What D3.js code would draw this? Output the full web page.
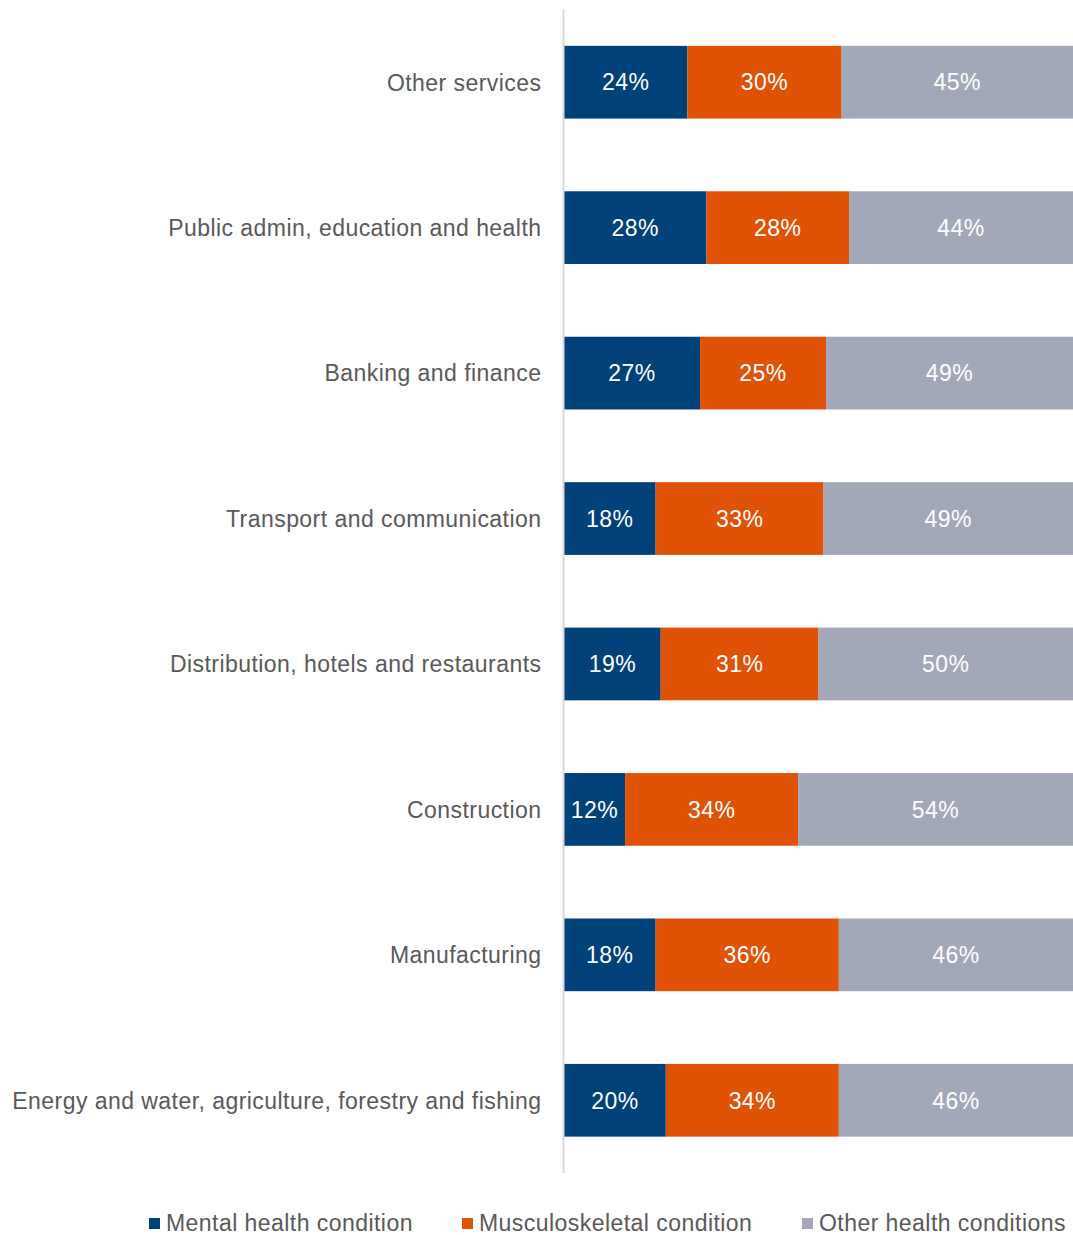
<!DOCTYPE html>
<html><head><meta charset="utf-8">
<script src="https://cdn.jsdelivr.net/npm/d3@7"></script>
<style>body{margin:0;background:#fff;}svg{display:block;font-family:"Liberation Sans",Arial,sans-serif;}</style>
</head><body>
<script>
const categories = ["Other services","Public admin, education and health","Banking and finance","Transport and communication","Distribution, hotels and restaurants","Construction","Manufacturing","Energy and water, agriculture, forestry and fishing"];
const seriesNames = ["Mental health condition","Musculoskeletal condition","Other health conditions"];
const mental = [24,28,27,18,19,12,18,20];
const musculo = [30,28,25,33,31,34,36,34];
const other = [45,44,49,49,50,54,46,46];
const colors = ["#00417a","#e05206","#a2a8b8"];

const W=1073,H=1235;
const FS=23, LS="0.45px";
const svg=d3.select("body").append("svg").attr("width",W).attr("height",H);
const keys=["m","k","o"];
const data=categories.map((c,i)=>({cat:c,m:mental[i],k:musculo[i],o:other[i]}));
const stacked=d3.stack().keys(keys).offset(d3.stackOffsetExpand)(data);
const x=d3.scaleLinear().domain([0,1]).range([564,1073]);
const y=d3.scaleBand().domain(categories).range([9.5,1173]).paddingInner(0.5).paddingOuter(0.25);

stacked.forEach((s,si)=>{
  const g=svg.append("g");
  g.selectAll("rect").data(s).join("rect")
    .attr("x",d=>x(d[0])).attr("width",d=>x(d[1])-x(d[0]))
    .attr("y",d=>y(d.data.cat)).attr("height",y.bandwidth())
    .attr("fill",colors[si]);
  g.selectAll("text").data(s).join("text")
    .attr("x",d=>(x(d[0])+x(d[1]))/2).attr("y",d=>y(d.data.cat)+y.bandwidth()/2)
    .attr("dy","0.36em").attr("text-anchor","middle").attr("fill","#fff")
    .attr("font-size",FS).attr("letter-spacing",LS)
    .text(d=>d.data[keys[si]]+"%");
});

// axis
const ax=svg.append("g").attr("transform","translate(563.5,0)").call(d3.axisLeft(y).tickSize(0).tickPadding(22));
ax.select(".domain").attr("stroke","#d9d9d9").attr("stroke-width",2).attr("d","M0,9.5V1173");
ax.selectAll("text").attr("font-size",FS).attr("letter-spacing",LS).attr("fill","#595959").attr("font-family","'Liberation Sans',Arial,sans-serif").attr("dy","0.36em");

// legend
const legX=[149,462,802];
const lg=svg.append("g");
seriesNames.forEach((n,i)=>{
  lg.append("rect").attr("x",legX[i]).attr("y",1218).attr("width",11).attr("height",11).attr("fill",colors[i]);
  lg.append("text").attr("x",legX[i]+17).attr("y",1223).attr("dy","0.36em").attr("font-size",FS).attr("letter-spacing",LS).attr("fill","#595959").text(n);
});
</script>
</body></html>
